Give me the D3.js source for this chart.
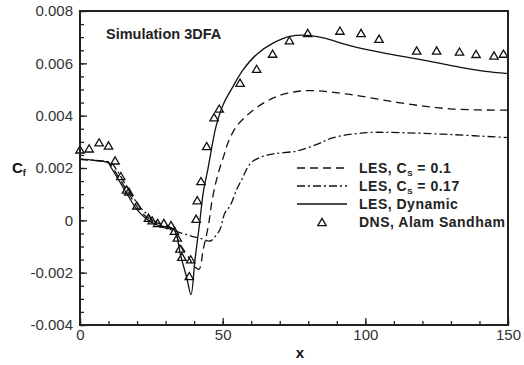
<!DOCTYPE html>
<html>
<head>
<meta charset="utf-8">
<script src="https://cdn.jsdelivr.net/npm/d3@7"></script>
<style>
  html, body { margin: 0; padding: 0; background: #fff; }
  svg { display: block; font-family: "Liberation Sans", Arial, Helvetica, sans-serif; }
</style>
</head>
<body>
<svg id="chart" width="524" height="365"></svg>
<script>
// Skin-friction coefficient along x for the 3DFA case

// LES, Cs = 0.1 (dashed)
const lesCs01X = [0, 5, 10, 11.5, 14, 17.5, 20.5, 23.5, 27, 30.5, 33, 35, 38, 40, 41.7, 43.2, 45, 46.2, 47.5, 49, 50.5, 52, 54.9, 59.6, 65.4, 72.4, 80.6, 94.6, 112.2, 129.7, 150];
const lesCs01Y = [0.00233, 0.00229, 0.00222, 0.0020, 0.00157, 0.00095, 0.00045, 0.00012, -0.0001, -0.0002, -0.0004, -0.0009, -0.0014, -0.00175, -0.00187, -0.0011, -0.0002, 0.0007, 0.0014, 0.0020, 0.0025, 0.0030, 0.0036, 0.00411, 0.00455, 0.00485, 0.00496, 0.00481, 0.00449, 0.00426, 0.00421];

// LES, Cs = 0.17 (dash-dot)
const lesCs017X = [0, 5, 10, 11, 13, 15.5, 18.5, 21.5, 24.5, 27, 30, 33, 36, 39, 42.5, 45.6, 47.5, 49.1, 50.8, 52.6, 54.9, 56.7, 59.6, 63, 67.8, 76, 83, 88.8, 100.5, 112.2, 129.7, 150];
const lesCs017Y = [0.00233, 0.0023, 0.00223, 0.0022, 0.0019, 0.00145, 0.0009, 0.00045, 0.00012, -0.0002, -0.0003, -0.0004, -0.0005, -0.0006, -0.0007, -0.00079, -0.0006, -0.00034, 0.00029, 0.00055, 0.00118, 0.00156, 0.00216, 0.0024, 0.00254, 0.00265, 0.0029, 0.00316, 0.00335, 0.00335, 0.00328, 0.00316];

// LES, Dynamic (solid)
const lesDynX = [0, 5, 9.8, 11, 13.4, 16.9, 19.9, 22.8, 26.3, 29.8, 33, 35.3, 37.4, 38.9, 40.3, 41.8, 43.2, 44.8, 47.7, 50.2, 53.7, 57.2, 61.9, 67.8, 73.6, 79.5, 85.3, 94.6, 106.3, 118, 129.7, 141.4, 150];
const lesDynY = [0.00235, 0.00229, 0.0022, 0.002, 0.00157, 0.00093, 0.00042, 0.0001, -0.00015, -0.00024, -0.00036, -0.00136, -0.00219, -0.00284, -0.00149, -0.00022, 0.00106, 0.00195, 0.0036, 0.00443, 0.00513, 0.00576, 0.00634, 0.00678, 0.00703, 0.00707, 0.00697, 0.00668, 0.0064, 0.00617, 0.00592, 0.0057, 0.00561];

// DNS, Alam Sandham (triangles)
const dnsX = [0, 3.2, 6.7, 10, 12.3, 14.3, 16.3, 17.1, 19.9, 24, 25.3, 27.2, 29.4, 31.9, 33.1, 34.1, 35, 35.7, 38.3, 38.8, 40.7, 41.1, 42.4, 44.4, 47, 48.8, 56.1, 61.9, 67.5, 73.4, 79.8, 91.1, 98.5, 104.8, 118, 125, 133, 138.8, 145.1, 148.4];
const dnsY = [0.00271, 0.00275, 0.00298, 0.00286, 0.00229, 0.00169, 0.00118, 0.0011, 0.00057, 0.0001, 0.0000, -0.0001, -0.0001, -0.00018, -0.0004, -0.00066, -0.00108, -0.00139, -0.00213, -0.00149, 0.00006, 0.00077, 0.0015, 0.00284, 0.00394, 0.00427, 0.00526, 0.00579, 0.00637, 0.00688, 0.00716, 0.00725, 0.00716, 0.00694, 0.00649, 0.00649, 0.00645, 0.00636, 0.0063, 0.00637];

// Axis ticks
const xTicks = [0, 50, 100, 150];
const xTickLabels = ["0", "50", "100", "150"];
const yTicks = [-0.004, -0.002, 0, 0.002, 0.004, 0.006, 0.008];
const yTickLabels = ["-0.004", "-0.002", "0", "0.002", "0.004", "0.006", "0.008"];

const legendLabels = [
  { main: "LES, C", sub: "S", rest: " = 0.1", style: "dash" },
  { main: "LES, C", sub: "S", rest: " = 0.17", style: "dashdot" },
  { main: "LES, Dynamic", sub: "", rest: "", style: "solid" },
  { main: "DNS, Alam Sandham", sub: "", rest: "", style: "marker" }
];

const svg = d3.select("#chart");
const plotL = 80, plotR = 508, plotT = 11, plotB = 325;

const x = d3.scaleLinear().domain([0, 150]).range([plotL, plotR]);
const y = d3.scaleLinear().domain([-0.004, 0.008]).range([plotB, plotT]);

const dashStyles = {
  dash: "8,5",
  dashdot: "8,3,2,3",
  solid: null
};

function zip(xs, ys) { return xs.map((v, i) => [v, ys[i]]); }

const line = d3.line()
  .x(d => x(d[0]))
  .y(d => y(d[1]))
  .curve(d3.curveCatmullRom.alpha(0.5));

const plot = svg.append("g");
plot.append("defs").append("clipPath").attr("id", "clip")
  .append("rect").attr("x", plotL).attr("y", plotT).attr("width", plotR - plotL).attr("height", plotB - plotT);

const series = [
  { data: zip(lesCs01X, lesCs01Y), style: "dash" },
  { data: zip(lesCs017X, lesCs017Y), style: "dashdot" },
  { data: zip(lesDynX, lesDynY), style: "solid" }
];

const curves = plot.append("g").attr("clip-path", "url(#clip)");
series.forEach(s => {
  curves.append("path")
    .attr("d", line(s.data))
    .attr("fill", "none")
    .attr("stroke", "#111")
    .attr("stroke-width", 1.3)
    .attr("stroke-dasharray", dashStyles[s.style]);
});

// Open triangle marker
function tri(cx, cy) {
  const w = 4.2, h = 3.6;
  return `M${cx},${cy - h}L${cx + w},${cy + h}L${cx - w},${cy + h}Z`;
}

plot.append("g").selectAll("path")
  .data(zip(dnsX, dnsY))
  .join("path")
  .attr("d", d => tri(x(d[0]), y(d[1])))
  .attr("fill", "none")
  .attr("stroke", "#111")
  .attr("stroke-width", 1.3);

// Frame
svg.append("rect")
  .attr("x", plotL).attr("y", plotT)
  .attr("width", plotR - plotL).attr("height", plotB - plotT)
  .attr("fill", "none").attr("stroke", "#222").attr("stroke-width", 2);

// Left axis: major ticks with labels, minor ticks every 0.0005
const yMinor = d3.range(-0.004, 0.00801, 0.0005);
const yAxisMinor = d3.axisLeft(y).tickValues(yMinor).tickSizeInner(-4).tickSizeOuter(0).tickFormat("");
const yAxisMajor = d3.axisLeft(y).tickValues(yTicks).tickSizeInner(-7).tickSizeOuter(0)
  .tickPadding(7).tickFormat((d, i) => yTickLabels[i]);

function styleAxis(g) {
  g.select(".domain").remove();
  g.selectAll("line").attr("stroke", "#222").attr("stroke-width", 1.3);
  g.selectAll("text").attr("fill", "#333").style("font-size", "15px")
    .style("font-family", '"Liberation Sans", Arial, sans-serif');
}

svg.append("g").attr("transform", `translate(${plotL},0)`).call(yAxisMinor).call(styleAxis);
svg.append("g").attr("transform", `translate(${plotL},0)`).call(yAxisMajor).call(styleAxis);

// Bottom axis: major every 50, minor every 10
const xMinor = d3.range(0, 151, 10);
const xAxisMinor = d3.axisBottom(x).tickValues(xMinor).tickSizeInner(-4).tickSizeOuter(0).tickFormat("");
const xAxisMajor = d3.axisBottom(x).tickValues(xTicks).tickSizeInner(-7).tickSizeOuter(0)
  .tickPadding(4).tickFormat((d, i) => xTickLabels[i]);

svg.append("g").attr("transform", `translate(0,${plotB})`).call(xAxisMinor).call(styleAxis);
svg.append("g").attr("transform", `translate(0,${plotB})`).call(xAxisMajor).call(styleAxis);

// Axis titles
svg.append("text")
  .attr("x", 300).attr("y", 358)
  .attr("text-anchor", "middle")
  .style("font-size", "15px").style("font-weight", "bold")
  .attr("fill", "#111")
  .text("x");

const cf = svg.append("text")
  .attr("x", 12).attr("y", 173)
  .style("font-size", "15px").style("font-weight", "bold")
  .attr("fill", "#111");
cf.append("tspan").text("C");
cf.append("tspan").attr("dy", 3).style("font-size", "9px").text("f");

// Case title
svg.append("text")
  .attr("x", 106).attr("y", 39)
  .style("font-size", "14.5px").style("font-weight", "bold")
  .attr("fill", "#222")
  .text("Simulation 3DFA");

// Legend
const legend = svg.append("g");
const legY0 = 168, legDy = 18, lineX0 = 297, lineX1 = 347, textX = 359;
legendLabels.forEach((item, i) => {
  const ly = legY0 + i * legDy;
  if (item.style === "marker") {
    legend.append("path")
      .attr("d", tri((lineX0 + lineX1) / 2, ly))
      .attr("fill", "none").attr("stroke", "#111").attr("stroke-width", 1.3);
  } else {
    legend.append("line")
      .attr("x1", lineX0).attr("x2", lineX1)
      .attr("y1", ly).attr("y2", ly)
      .attr("stroke", "#111").attr("stroke-width", 1.3)
      .attr("stroke-dasharray", dashStyles[item.style]);
  }
  const t = legend.append("text")
    .attr("x", textX).attr("y", ly + 5)
    .style("font-size", "14px").style("font-weight", "bold")
    .style("letter-spacing", "0.5px")
    .attr("fill", "#222");
  t.append("tspan").text(item.main);
  if (item.sub) {
    t.append("tspan").attr("dy", 3).style("font-size", "8px").text(item.sub);
    t.append("tspan").attr("dy", -3).text(item.rest);
  }
});
</script>
</body>
</html>
